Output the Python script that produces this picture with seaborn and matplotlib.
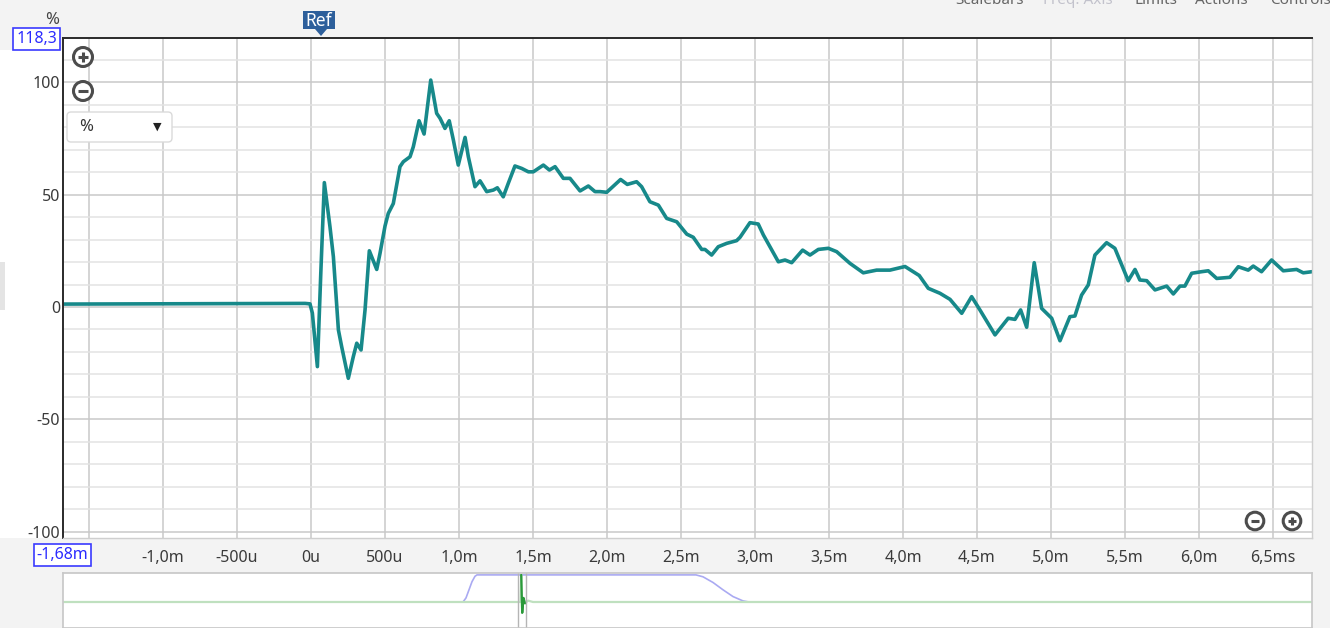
import numpy as np
import pandas as pd
import seaborn as sns
import matplotlib.pyplot as plt
from matplotlib.patches import Rectangle, Circle, FancyBboxPatch, Polygon

# respuesta al impulso (tiempo en ms, amplitud en %)
tiempo_ms = [-1.676, -1.2, -0.6, -0.1, -0.04, -0.007, 0.009, 0.043, 0.066, 0.090,
             0.128, 0.151, 0.185, 0.207, 0.252, 0.286, 0.309, 0.338, 0.365, 0.394,
             0.444, 0.466, 0.500, 0.522, 0.556, 0.601, 0.624, 0.669, 0.691, 0.730,
             0.764, 0.809, 0.849, 0.872, 0.905, 0.934, 0.962, 0.995, 1.041, 1.063,
             1.108, 1.142, 1.187, 1.232, 1.259, 1.299, 1.333, 1.378, 1.424, 1.469,
             1.502, 1.570, 1.611, 1.649, 1.705, 1.750, 1.818, 1.874, 1.919, 1.953,
             1.998, 2.092, 2.137, 2.200, 2.234, 2.290, 2.347, 2.403, 2.471, 2.539,
             2.583, 2.640, 2.662, 2.707, 2.752, 2.809, 2.876, 2.899, 2.966, 3.022,
             3.057, 3.101, 3.158, 3.203, 3.248, 3.322, 3.372, 3.428, 3.496, 3.552,
             3.642, 3.732, 3.822, 3.912, 4.014, 4.110, 4.171, 4.250, 4.318, 4.397,
             4.464, 4.520, 4.622, 4.711, 4.757, 4.795, 4.836, 4.887, 4.937, 5.005,
             5.061, 5.128, 5.162, 5.207, 5.252, 5.297, 5.376, 5.432, 5.522, 5.568,
             5.601, 5.647, 5.703, 5.782, 5.827, 5.872, 5.905, 5.951, 6.018, 6.063,
             6.120, 6.209, 6.266, 6.333, 6.367, 6.423, 6.491, 6.570, 6.660, 6.705,
             6.764]
amplitud_pct = [1.3, 1.4, 1.5, 1.6, 1.6, 1.4, -2.7, -26.5, 15.0, 55.3,
                35.7, 22.4, -10.2, -17.6, -31.7, -22.0, -16.1, -19.1, -1.3, 25.0,
                16.7, 23.8, 36.0, 41.6, 46.0, 62.4, 64.6, 66.8, 71.2, 82.8,
                76.9, 100.9, 86.1, 83.9, 79.4, 82.8, 74.2, 63.1, 75.4, 66.8,
                53.5, 56.1, 51.3, 52.0, 53.0, 49.0, 55.0, 62.7, 61.6, 60.1,
                60.1, 63.1, 60.9, 62.4, 57.2, 57.2, 51.6, 53.8, 51.3, 51.3,
                51.0, 56.7, 54.5, 55.7, 53.5, 46.8, 45.3, 39.4, 37.9, 32.4,
                31.0, 25.6, 25.6, 23.1, 26.8, 28.3, 29.5, 31.0, 37.5, 36.9,
                32.0, 26.8, 20.1, 20.9, 19.7, 25.3, 23.1, 25.6, 26.1, 24.6,
                19.4, 15.2, 16.4, 16.4, 18.0, 14.0, 8.3, 6.1, 3.4, -2.8,
                4.6, -1.3, -12.4, -5.0, -5.5, -1.3, -9.0, 19.7, -0.6, -5.0,
                -15.0, -4.3, -4.0, 5.3, 9.8, 23.1, 28.6, 26.1, 11.7, 16.7,
                12.0, 11.7, 7.6, 9.3, 5.8, 9.3, 9.3, 15.0, 15.7, 16.1,
                12.7, 13.2, 17.9, 16.4, 18.2, 15.7, 20.9, 16.1, 16.7, 15.2,
                15.7]

x_ticks = [-1.5, -1.0, -0.5, 0.0, 0.5, 1.0, 1.5, 2.0, 2.5, 3.0, 3.5, 4.0, 4.5, 5.0, 5.5, 6.0, 6.5]
x_labels = ["", "-1,0m", "-500u", "0u", "500u", "1,0m", "1,5m", "2,0m", "2,5m", "3,0m",
            "3,5m", "4,0m", "4,5m", "5,0m", "5,5m", "6,0m", "6,5ms"]
y_ticks = [-100, -50, 0, 50, 100]
y_labels = ["-100", "-50", "0", "50", "100"]
y_menores = [-90, -80, -70, -60, -40, -30, -20, -10, 10, 20, 30, 40, 60, 70, 80, 90, 110]

# vista general (abajo): ventana y respuesta completa
vista_x = [0, 400, 403, 406, 409, 412, 414, 633, 640, 650, 660, 670, 680, 686, 1249]
ventana = [0, 0, 0.15, 0.45, 0.75, 0.95, 1.0, 1.0, 0.93, 0.72, 0.45, 0.2, 0.04, 0, 0]
pico_x = [0, 457.5, 458.2, 459.2, 460.5, 462, 465, 470, 1249]
pico_y = [0, 0, 1.0, -0.4, 0.15, -0.05, 0.05, 0, 0]

W, H = 1330, 628

sns.set_theme(style="white")
plt.rcParams['font.family'] = ['Noto Sans', 'DejaVu Sans']

fig = plt.figure(figsize=(W / 100, H / 100), dpi=100, facecolor='#f3f3f3')

# margen blanco a la izquierda
fig.add_artist(Rectangle((0, 1 - 538 / H), 63 / W, (538 - 50) / H, transform=fig.transFigure,
                         facecolor='white', edgecolor='none', zorder=-1))

# grafico principal
ax = fig.add_axes([63 / W, 1 - 538 / H, 1249 / W, 500 / H])
datos = pd.DataFrame({'t': tiempo_ms, 'v': amplitud_pct})
sns.lineplot(data=datos, x='t', y='v', ax=ax, color='#17898a', linewidth=2.6,
             estimator=None, sort=False)
ax.set_xlim(-1.676, 6.764)
ax.set_ylim(-102.7, 119.6)
ax.set_xticks(x_ticks)
ax.set_xticklabels(x_labels)
ax.set_yticks(y_ticks)
ax.set_yticklabels(y_labels)
ax.set_yticks(y_menores, minor=True)
ax.grid(which='major', color='#c9c9c9', lw=1.1)
ax.grid(which='minor', axis='y', color='#e3e3e3', lw=1.1)
ax.set_axisbelow(True)
ax.tick_params(axis='both', which='both', length=0, labelsize=11.5, labelcolor='#3a3a3a')
ax.tick_params(axis='x', pad=9)
ax.tick_params(axis='y', pad=2)
ax.set_xlabel("")
ax.set_ylabel("")
for lado in ['left', 'top']:
    ax.spines[lado].set_color('#2a2a2a')
    ax.spines[lado].set_linewidth(1.4)
for lado in ['right', 'bottom']:
    ax.spines[lado].set_color('#cfcfcf')
    ax.spines[lado].set_linewidth(1.0)

# vista general
ov = fig.add_axes([63 / W, 0, 1249 / W, 55 / H])
ov.set_xlim(0, 1249)
ov.set_ylim(-0.96, 1.07)
ov.plot(vista_x, ventana, color='#aaaaf2', lw=1.2)
ov.plot(pico_x, pico_y, color='#bfe0bf', lw=1.6)
ov.plot(pico_x[2:6], pico_y[2:6], color='#2a9a3a', lw=1.6)
ov.axvline(454.7, color='#b5b5b5', lw=1.0)
ov.axvline(463.0, color='#b5b5b5', lw=1.0)
ov.set_xticks([])
ov.set_yticks([])
for lado in ov.spines:
    ov.spines[lado].set_color('#c8c8c8')

# capa superior en pixeles para controles y etiquetas
ui = fig.add_axes([0, 0, 1, 1], zorder=5)
ui.set_xlim(0, W)
ui.set_ylim(H, 0)
ui.axis('off')
ui.patch.set_alpha(0)

ui.add_patch(Rectangle((0, 262), 5, 48, facecolor='#e4e4e4', edgecolor='none'))

ui.text(52, 20, "%", ha='center', va='center', fontsize=12, color='#444444')
ui.text(36.5, 39, "118,3", ha='center', va='center', fontsize=11.5, color='#2b2bff',
        bbox=dict(boxstyle='square,pad=0.18', fc='white', ec='#3a3aff', lw=1.2))
ui.text(62.5, 555, "-1,68m", ha='center', va='center', fontsize=11.5, color='#2b2bff',
        bbox=dict(boxstyle='square,pad=0.18', fc='white', ec='#3a3aff', lw=1.2))

# marcador Ref
ui.add_patch(Polygon([(303, 11), (335, 11), (335, 29), (327, 29), (321, 36), (315, 29), (303, 29)],
                     closed=True, facecolor='#2d5f9b', edgecolor='none'))
ui.text(319, 20.5, "Ref", ha='center', va='center', fontsize=12.5, color='white', fontweight='bold')

# botones de zoom
def boton(x, y, r, mas):
    ui.add_patch(Circle((x, y), r, facecolor='white', edgecolor='#4c4c4c', lw=2.2))
    ui.plot([x - r * 0.5, x + r * 0.5], [y, y], color='#4c4c4c', lw=2.2, solid_capstyle='butt')
    if mas:
        ui.plot([x, x], [y - r * 0.5, y + r * 0.5], color='#4c4c4c', lw=2.2, solid_capstyle='butt')

boton(83, 57, 9.5, True)
boton(83, 91, 9.5, False)
boton(1255, 521, 8.8, False)
boton(1292, 521, 8.8, True)

# desplegable de unidades
ui.add_patch(FancyBboxPatch((67, 112), 105, 30, boxstyle='round,pad=0,rounding_size=4',
                            facecolor='white', edgecolor='#dadada', lw=1.0))
ui.text(86, 127, "%", ha='center', va='center', fontsize=12, color='#333333')
ui.text(157, 127, "▼", ha='center', va='center', fontsize=8, color='#222222')

# menu superior (cortado por el borde, como en la captura)
for texto, xpos, col in [("Scalebars", 955, '#666666'), ("Freq. Axis", 1043, '#c2c2cc'),
                         ("Limits", 1135, '#666666'), ("Actions", 1195, '#666666'),
                         ("Controls", 1270, '#666666')]:
    ui.text(xpos, 4, texto, ha='left', va='baseline', fontsize=11, color=col)

fig.savefig("out.png", dpi=100, facecolor=fig.get_facecolor())
